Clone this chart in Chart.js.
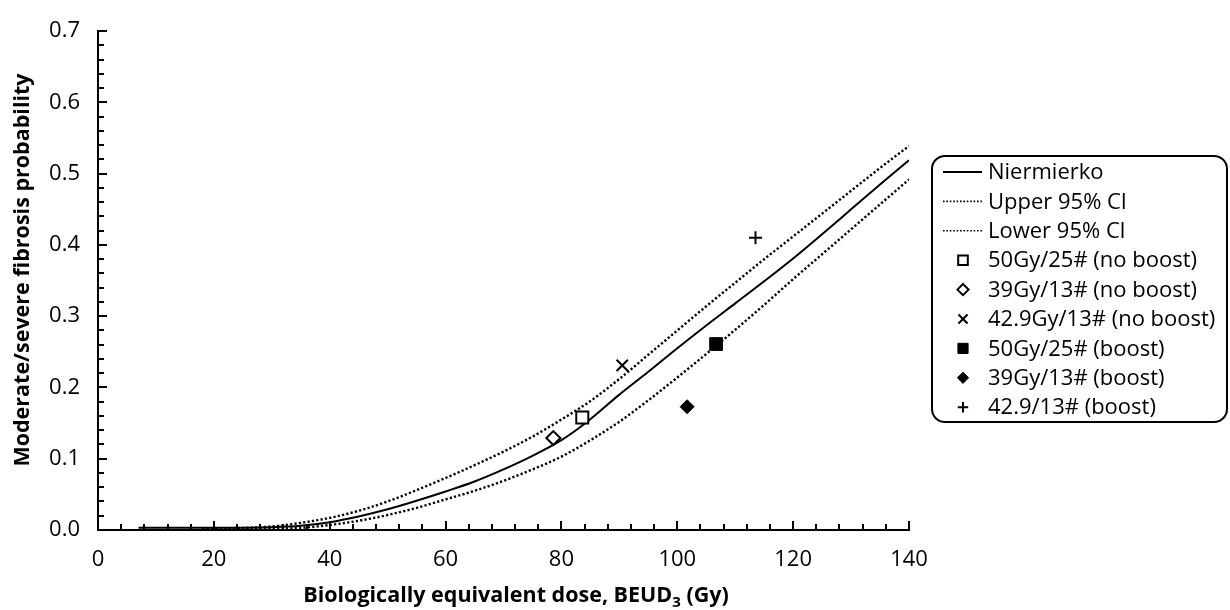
<!DOCTYPE html>
<html>
<head>
<meta charset="utf-8">
<script src="https://cdn.jsdelivr.net/npm/chart.js@4.4.0/dist/chart.umd.min.js"></script>
<style>
  html, body { margin: 0; padding: 0; background: #fff; }
  #wrap { width: 1230px; height: 610px; position: relative; }
</style>
</head>
<body>
<div id="wrap"><canvas id="chart" width="1230" height="610"></canvas></div>
<script>
// model curves
const niemX = [7, 20, 30, 35, 40, 45, 50, 55, 60, 65, 70, 75, 80, 84, 90, 95, 100, 105, 110, 115, 120, 125, 130, 135, 140]
const niemY = [0.003, 0.003, 0.004, 0.006, 0.011, 0.019, 0.029, 0.041, 0.054, 0.068, 0.085, 0.104, 0.126, 0.149, 0.19, 0.222, 0.255, 0.287, 0.318, 0.349, 0.381, 0.415, 0.45, 0.485, 0.519]

const upperX = [18, 25, 30, 35, 40, 45, 50, 55, 60, 65, 70, 75, 80, 85, 90, 95, 100, 105, 110, 115, 120, 125, 130, 135, 140]
const upperY = [0.002, 0.003, 0.005, 0.01, 0.017, 0.027, 0.04, 0.056, 0.073, 0.091, 0.11, 0.131, 0.155, 0.181, 0.212, 0.246, 0.28, 0.314, 0.347, 0.38, 0.412, 0.444, 0.476, 0.508, 0.539]

const lowerX = [18, 25, 30, 35, 40, 45, 50, 55, 60, 65, 70, 75, 80, 85, 90, 95, 100, 105, 110, 115, 120, 125, 130, 135, 140]
const lowerY = [0.002, 0.002, 0.002, 0.003, 0.007, 0.013, 0.021, 0.031, 0.043, 0.055, 0.069, 0.085, 0.103, 0.126, 0.152, 0.182, 0.214, 0.247, 0.281, 0.316, 0.352, 0.387, 0.422, 0.457, 0.492]

// observed groups: [BEUD3, probability]
const noBoost50 = [83.6, 0.158]
const noBoost39 = [78.6, 0.129]
const noBoost429 = [90.5, 0.231]
const boost50 = [106.7, 0.261]
const boost39 = [101.7, 0.173]
const boost429 = [113.5, 0.41]

const seriesNames = [
  'Niermierko', 'Upper 95% Cl', 'Lower 95% Cl',
  '50Gy/25# (no boost)', '39Gy/13# (no boost)', '42.9Gy/13# (no boost)',
  '50Gy/25# (boost)', '39Gy/13# (boost)', '42.9/13# (boost)'
]

const xTicks = [0, 20, 40, 60, 80, 100, 120, 140]
const yTicks = [0, 0.1, 0.2, 0.3, 0.4, 0.5, 0.6, 0.7]
const yTitle = 'Moderate/severe fibrosis probability'
const xTitleParts = ['Biologically equivalent dose, BEUD', '3', ' (Gy)']

const FONT = '"Open Sans", "Noto Sans", sans-serif'

const toXY = (xs, ys) => xs.map((x, i) => ({ x, y: ys[i] }))

function lineSet(label, xs, ys, dash) {
  return {
    label,
    data: toXY(xs, ys),
    showLine: true,
    borderColor: '#000',
    borderWidth: dash ? 2.4 : 2,
    borderDash: dash || [],
    borderCapStyle: 'butt',
    pointRadius: 0,
    pointHoverRadius: 0,
    cubicInterpolationMode: 'monotone',
    order: 1
  }
}

function pointSet(label, pt, style, radius, filled, bw) {
  return {
    label,
    data: [{ x: pt[0], y: pt[1] }],
    showLine: false,
    pointStyle: style,
    pointRadius: radius,
    pointHoverRadius: radius,
    pointBackgroundColor: filled ? '#000' : '#fff',
    pointBorderColor: '#000',
    pointBorderWidth: bw,
    order: 0
  }
}

const datasets = [
  lineSet(seriesNames[0], niemX, niemY, null),
  lineSet(seriesNames[1], upperX, upperY, [2.2, 2.2]),
  lineSet(seriesNames[2], lowerX, lowerY, [2.2, 2.2]),
  pointSet(seriesNames[3], noBoost50, 'rect', 8.5, false, 2),
  pointSet(seriesNames[4], noBoost39, 'rectRot', 7, false, 2),
  pointSet(seriesNames[5], noBoost429, 'crossRot', 8, false, 2),
  pointSet(seriesNames[6], boost50, 'rect', 9, true, 1),
  pointSet(seriesNames[7], boost39, 'rectRot', 7, true, 1),
  pointSet(seriesNames[8], boost429, 'cross', 6.5, false, 2)
]

function marker(ctx, style, r, filled, bw, x, y) {
  ctx.save()
  ctx.beginPath()
  ctx.lineWidth = bw
  ctx.strokeStyle = '#000'
  ctx.fillStyle = filled ? '#000' : '#fff'
  if (style === 'rect') {
    const s = Math.SQRT1_2 * r
    ctx.rect(x - s, y - s, 2 * s, 2 * s)
    ctx.fill(); ctx.stroke()
  } else if (style === 'rectRot') {
    ctx.moveTo(x - r, y); ctx.lineTo(x, y - r); ctx.lineTo(x + r, y); ctx.lineTo(x, y + r)
    ctx.closePath(); ctx.fill(); ctx.stroke()
  } else if (style === 'crossRot') {
    const s = Math.SQRT1_2 * r
    ctx.moveTo(x - s, y - s); ctx.lineTo(x + s, y + s)
    ctx.moveTo(x + s, y - s); ctx.lineTo(x - s, y + s)
    ctx.stroke()
  } else if (style === 'cross') {
    ctx.moveTo(x - r, y); ctx.lineTo(x + r, y)
    ctx.moveTo(x, y - r); ctx.lineTo(x, y + r)
    ctx.stroke()
  }
  ctx.restore()
}

const decorPlugin = {
  id: 'decor',
  afterDraw(chart) {
    const { ctx } = chart
    const xs = chart.scales.x
    const ys = chart.scales.y
    const left = xs.left
    const bottom = ys.bottom

    // inward tick marks, minor and major
    ctx.save()
    ctx.strokeStyle = '#000'
    ctx.lineWidth = 2
    ctx.beginPath()
    for (let i = 0; i <= 35; i++) {
      const px = Math.round(xs.getPixelForValue(i * 4))
      const len = i % 5 === 0 ? 9 : 6
      ctx.moveTo(px, bottom)
      ctx.lineTo(px, bottom - len)
      const py = Math.round(ys.getPixelForValue(i * 0.02))
      ctx.moveTo(left, py)
      ctx.lineTo(left + len, py)
    }
    ctx.stroke()
    ctx.restore()

    // axis titles
    ctx.save()
    ctx.fillStyle = '#000'
    ctx.font = `bold 21.5px ${FONT}`
    ctx.textAlign = 'center'
    ctx.textBaseline = 'middle'
    ctx.translate(23, 270)
    ctx.rotate(-Math.PI / 2)
    ctx.fillText(yTitle, 0, 0)
    ctx.restore()

    ctx.save()
    ctx.fillStyle = '#000'
    ctx.textBaseline = 'alphabetic'
    ctx.textAlign = 'left'
    const mainFont = `bold 21.5px ${FONT}`
    const subFont = `bold 15px ${FONT}`
    ctx.font = mainFont
    const w0 = ctx.measureText(xTitleParts[0]).width
    const w2 = ctx.measureText(xTitleParts[2]).width
    ctx.font = subFont
    const w1 = ctx.measureText(xTitleParts[1]).width
    let tx = 516 - (w0 + w1 + w2) / 2
    const base = 602
    ctx.font = mainFont
    ctx.fillText(xTitleParts[0], tx, base)
    tx += w0
    ctx.font = subFont
    ctx.fillText(xTitleParts[1], tx, base + 5)
    tx += w1
    ctx.font = mainFont
    ctx.fillText(xTitleParts[2], tx, base)
    ctx.restore()

    // legend box
    ctx.save()
    ctx.strokeStyle = '#000'
    ctx.lineWidth = 2
    ctx.beginPath()
    ctx.roundRect(932, 156, 295, 266, 13)
    ctx.stroke()
    ctx.font = `22px ${FONT}`
    ctx.fillStyle = '#000'
    ctx.textBaseline = 'middle'
    ctx.textAlign = 'left'
    datasets.forEach((ds, i) => {
      const cy = 172 + i * 29.4
      if (ds.showLine) {
        ctx.save()
        ctx.lineWidth = ds.borderDash.length ? 1.6 : 2
        ctx.setLineDash(ds.borderDash.length ? [1.6, 1.8] : [])
        ctx.beginPath()
        ctx.moveTo(943, cy)
        ctx.lineTo(982, cy)
        ctx.stroke()
        ctx.restore()
      } else {
        const filled = ds.pointBackgroundColor === '#000'
        marker(ctx, ds.pointStyle, ds.pointRadius * 0.8, filled, ds.pointBorderWidth, 963, cy)
      }
      ctx.fillText(ds.label, 988, cy + 1)
    })
    ctx.restore()
  }
}

new Chart(document.getElementById('chart'), {
  type: 'scatter',
  data: { datasets },
  plugins: [decorPlugin],
  options: {
    responsive: false,
    animation: false,
    events: [],
    layout: { padding: { top: 21, right: 321, left: 0, bottom: 0 } },
    plugins: {
      legend: { display: false },
      tooltip: { enabled: false }
    },
    scales: {
      x: {
        type: 'linear',
        min: 0,
        max: 140,
        afterFit: (s) => { s.height = 80 },
        afterBuildTicks: (s) => { s.ticks = xTicks.map(v => ({ value: v })) },
        grid: { display: false, drawTicks: false },
        border: { display: true, color: '#000', width: 2 },
        ticks: {
          color: '#000',
          padding: 17,
          maxRotation: 0,
          font: { family: FONT, size: 22 }
        }
      },
      y: {
        type: 'linear',
        min: 0,
        max: 0.7,
        afterFit: (s) => { s.width = 98 },
        afterBuildTicks: (s) => { s.ticks = yTicks.map(v => ({ value: v })) },
        grid: { display: false, drawTicks: false },
        border: { display: true, color: '#000', width: 2 },
        ticks: {
          color: '#000',
          padding: 18,
          font: { family: FONT, size: 22 },
          callback: (v) => Number(v).toFixed(1)
        }
      }
    }
  }
})
</script>
</body>
</html>
